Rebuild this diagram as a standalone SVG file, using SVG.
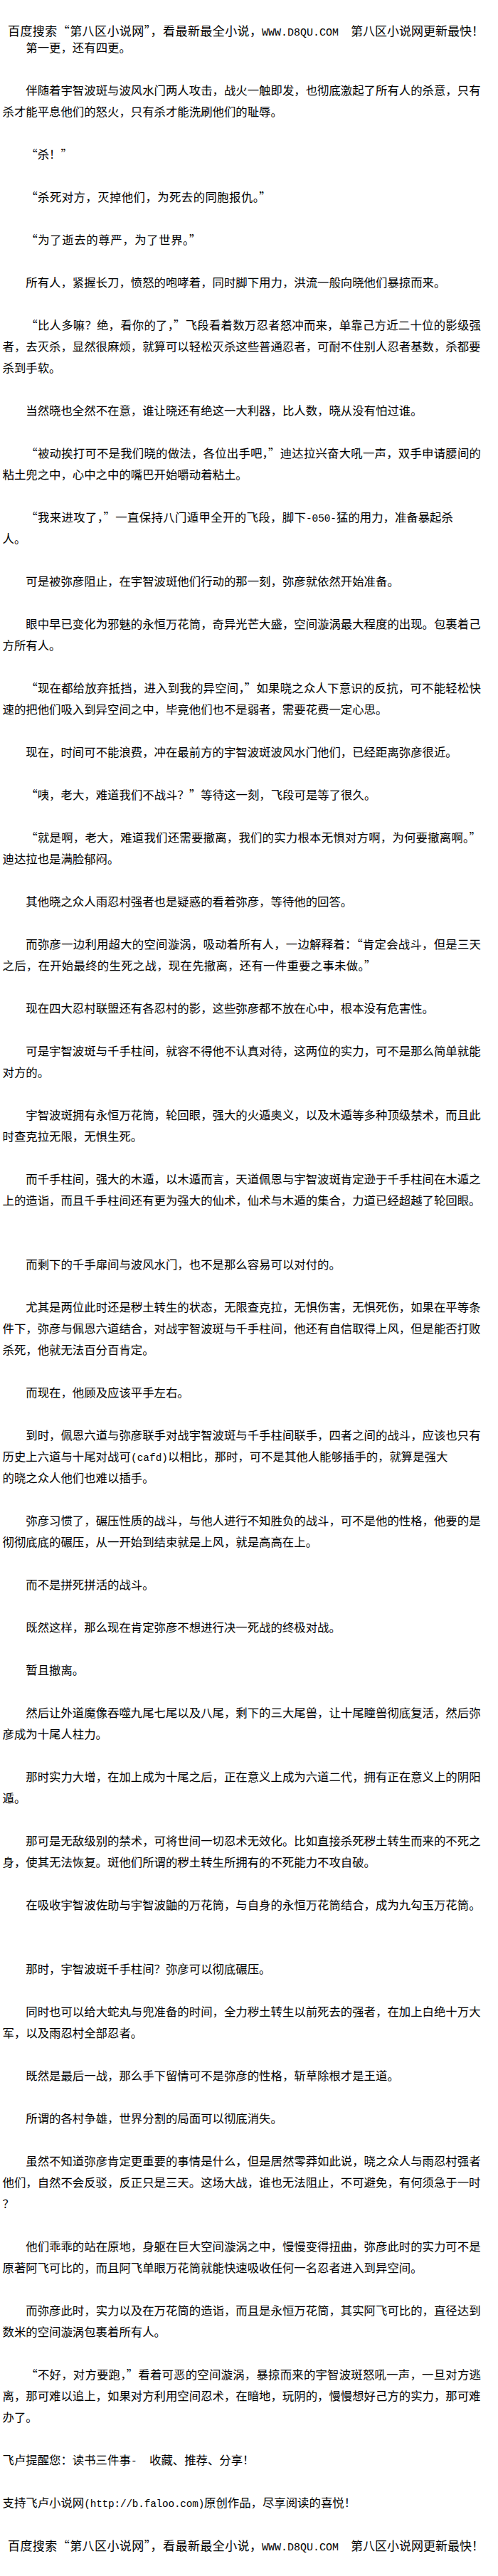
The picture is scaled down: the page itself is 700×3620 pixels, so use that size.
<svg xmlns="http://www.w3.org/2000/svg" width="700" height="3620" viewBox="0 0 700 3620">
<style>
text{font-family:'Noto Sans CJK SC','Noto Sans CJK JP',sans-serif;font-size:16.4px;fill:#000}
.h{font-size:17px}
.m{font-family:'Liberation Mono','DejaVu Sans Mono',monospace;font-size:14.4px}
.hm{font-family:'Liberation Mono','DejaVu Sans Mono',monospace;font-size:15px}
</style>
<rect width="700" height="3620" fill="#fff"/>
<g id="header">
<text class="h" x="11" y="49.5" textLength="357" lengthAdjust="spacing">百度搜索“第八区小说网”，看最新最全小说，</text>
<text class="hm" x="368" y="49.5" textLength="108" lengthAdjust="spacing">WWW.D8QU.COM</text>
<text class="h" x="493" y="49.5">第八区小说网更新最快！</text>
</g>
<g id="body">
<text x="36.3" y="73">第一更，还有四更。</text>
<text x="36.3" y="133">伴随着宇智波斑与波风水门两人攻击，战火一触即发，也彻底激起了所有人的杀意，只有</text>
<text x="3.5" y="163">杀才能平息他们的怒火，只有杀才能洗刷他们的耻辱。</text>
<text x="36.3" y="223" textLength="65.6" lengthAdjust="spacing">“杀！”</text>
<text x="36.3" y="283" textLength="344.4" lengthAdjust="spacing">“杀死对方，灭掉他们，为死去的同胞报仇。”</text>
<text x="36.3" y="343" textLength="246" lengthAdjust="spacing">“为了逝去的尊严，为了世界。”</text>
<text x="36.3" y="403">所有人，紧握长刀，愤怒的咆哮着，同时脚下用力，洪流一般向晓他们暴掠而来。</text>
<text x="36.3" y="463" textLength="639.6" lengthAdjust="spacing">“比人多嘛？绝，看你的了，”飞段看着数万忍者怒冲而来，单靠己方近二十位的影级强</text>
<text x="3.5" y="493">者，去灭杀，显然很麻烦，就算可以轻松灭杀这些普通忍者，可耐不住别人忍者基数，杀都要</text>
<text x="3.5" y="523">杀到手软。</text>
<text x="36.3" y="583">当然晓也全然不在意，谁让晓还有绝这一大利器，比人数，晓从没有怕过谁。</text>
<text x="36.3" y="643" textLength="639.6" lengthAdjust="spacing">“被动挨打可不是我们晓的做法，各位出手吧，”迪达拉兴奋大吼一声，双手申请腰间的</text>
<text x="3.5" y="673">粘土兜之中，心中之中的嘴巴开始嚼动着粘土。</text>
<text x="36.3" y="733" textLength="393.6" lengthAdjust="spacing">“我来进攻了，”一直保持八门遁甲全开的飞段，脚下</text>
<text class="m" x="430" y="733" textLength="43" lengthAdjust="spacing">-050-</text>
<text x="473" y="733">猛的用力，准备暴起杀</text>
<text x="3.5" y="763">人。</text>
<text x="36.3" y="823">可是被弥彦阻止，在宇智波斑他们行动的那一刻，弥彦就依然开始准备。</text>
<text x="36.3" y="883">眼中早已变化为邪魅的永恒万花筒，奇异光芒大盛，空间漩涡最大程度的出现。包裹着己</text>
<text x="3.5" y="913">方所有人。</text>
<text x="36.3" y="973" textLength="639.6" lengthAdjust="spacing">“现在都给放弃抵挡，进入到我的异空间，”如果晓之众人下意识的反抗，可不能轻松快</text>
<text x="3.5" y="1003">速的把他们吸入到异空间之中，毕竟他们也不是弱者，需要花费一定心思。</text>
<text x="36.3" y="1063">现在，时间可不能浪费，冲在最前方的宇智波斑波风水门他们，已经距离弥彦很近。</text>
<text x="36.3" y="1123" textLength="492" lengthAdjust="spacing">“咦，老大，难道我们不战斗？”等待这一刻，飞段可是等了很久。</text>
<text x="36.3" y="1183" textLength="639.6" lengthAdjust="spacing">“就是啊，老大，难道我们还需要撤离，我们的实力根本无惧对方啊，为何要撤离啊。”</text>
<text x="3.5" y="1213">迪达拉也是满脸郁闷。</text>
<text x="36.3" y="1273">其他晓之众人雨忍村强者也是疑惑的看着弥彦，等待他的回答。</text>
<text x="36.3" y="1333" textLength="639.6" lengthAdjust="spacing">而弥彦一边利用超大的空间漩涡，吸动着所有人，一边解释着：“肯定会战斗，但是三天</text>
<text x="3.5" y="1363" textLength="524.8" lengthAdjust="spacing">之后，在开始最终的生死之战，现在先撤离，还有一件重要之事未做。”</text>
<text x="36.3" y="1423">现在四大忍村联盟还有各忍村的影，这些弥彦都不放在心中，根本没有危害性。</text>
<text x="36.3" y="1483">可是宇智波斑与千手柱间，就容不得他不认真对待，这两位的实力，可不是那么简单就能</text>
<text x="3.5" y="1513">对方的。</text>
<text x="36.3" y="1573">宇智波斑拥有永恒万花筒，轮回眼，强大的火遁奥义，以及木遁等多种顶级禁术，而且此</text>
<text x="3.5" y="1603">时查克拉无限，无惧生死。</text>
<text x="36.3" y="1663">而千手柱间，强大的木遁，以木遁而言，天道佩恩与宇智波斑肯定逊于千手柱间在木遁之</text>
<text x="3.5" y="1693">上的造诣，而且千手柱间还有更为强大的仙术，仙术与木遁的集合，力道已经超越了轮回眼。</text>
<text x="36.3" y="1783">而剩下的千手扉间与波风水门，也不是那么容易可以对付的。</text>
<text x="36.3" y="1843">尤其是两位此时还是秽土转生的状态，无限查克拉，无惧伤害，无惧死伤，如果在平等条</text>
<text x="3.5" y="1873">件下，弥彦与佩恩六道结合，对战宇智波斑与千手柱间，他还有自信取得上风，但是能否打败</text>
<text x="3.5" y="1903">杀死，他就无法百分百肯定。</text>
<text x="36.3" y="1963">而现在，他顾及应该平手左右。</text>
<text x="36.3" y="2023">到时，佩恩六道与弥彦联手对战宇智波斑与千手柱间联手，四者之间的战斗，应该也只有</text>
<text x="3.5" y="2053">历史上六道与十尾对战可</text>
<text class="m" x="184" y="2053" textLength="52" lengthAdjust="spacing">(cafd)</text>
<text x="236" y="2053">以相比，那时，可不是其他人能够插手的，就算是强大</text>
<text x="3.5" y="2083">的晓之众人他们也难以插手。</text>
<text x="36.3" y="2143">弥彦习惯了，碾压性质的战斗，与他人进行不知胜负的战斗，可不是他的性格，他要的是</text>
<text x="3.5" y="2173">彻彻底底的碾压，从一开始到结束就是上风，就是高高在上。</text>
<text x="36.3" y="2233">而不是拼死拼活的战斗。</text>
<text x="36.3" y="2293">既然这样，那么现在肯定弥彦不想进行决一死战的终极对战。</text>
<text x="36.3" y="2353">暂且撤离。</text>
<text x="36.3" y="2413">然后让外道魔像吞噬九尾七尾以及八尾，剩下的三大尾兽，让十尾瞳兽彻底复活，然后弥</text>
<text x="3.5" y="2443">彦成为十尾人柱力。</text>
<text x="36.3" y="2503">那时实力大增，在加上成为十尾之后，正在意义上成为六道二代，拥有正在意义上的阴阳</text>
<text x="3.5" y="2533">遁。</text>
<text x="36.3" y="2593">那可是无敌级别的禁术，可将世间一切忍术无效化。比如直接杀死秽土转生而来的不死之</text>
<text x="3.5" y="2623">身，使其无法恢复。斑他们所谓的秽土转生所拥有的不死能力不攻自破。</text>
<text x="36.3" y="2683">在吸收宇智波佐助与宇智波鼬的万花筒，与自身的永恒万花筒结合，成为九勾玉万花筒。</text>
<text x="36.3" y="2773">那时，宇智波斑千手柱间？弥彦可以彻底碾压。</text>
<text x="36.3" y="2833">同时也可以给大蛇丸与兜准备的时间，全力秽土转生以前死去的强者，在加上白绝十万大</text>
<text x="3.5" y="2863">军，以及雨忍村全部忍者。</text>
<text x="36.3" y="2923">既然是最后一战，那么手下留情可不是弥彦的性格，斩草除根才是王道。</text>
<text x="36.3" y="2983">所谓的各村争雄，世界分割的局面可以彻底消失。</text>
<text x="36.3" y="3043">虽然不知道弥彦肯定更重要的事情是什么，但是居然零莽如此说，晓之众人与雨忍村强者</text>
<text x="3.5" y="3073">他们，自然不会反驳，反正只是三天。这场大战，谁也无法阻止，不可避免，有何须急于一时</text>
<text x="3.5" y="3103">？</text>
<text x="36.3" y="3163">他们乖乖的站在原地，身躯在巨大空间漩涡之中，慢慢变得扭曲，弥彦此时的实力可不是</text>
<text x="3.5" y="3193">原著阿飞可比的，而且阿飞单眼万花筒就能快速吸收任何一名忍者进入到异空间。</text>
<text x="36.3" y="3253">而弥彦此时，实力以及在万花筒的造诣，而且是永恒万花筒，其实阿飞可比的，直径达到</text>
<text x="3.5" y="3283">数米的空间漩涡包裹着所有人。</text>
<text x="36.3" y="3343" textLength="639.6" lengthAdjust="spacing">“不好，对方要跑，”看着可恶的空间漩涡，暴掠而来的宇智波斑怒吼一声，一旦对方逃</text>
<text x="3.5" y="3373">离，那可难以追上，如果对方利用空间忍术，在暗地，玩阴的，慢慢想好己方的实力，那可难</text>
<text x="3.5" y="3403">办了。</text>
</g>
<g id="footer">
<text x="3.5" y="3463">飞卢提醒您：读书三件事</text>
<text class="m" x="184" y="3463" textLength="26" lengthAdjust="spacing"> - </text>
<text x="210" y="3463">收藏、推荐、分享！</text>
<text x="3.5" y="3523">支持飞卢小说网</text>
<text class="m" x="118.3" y="3523" textLength="169" lengthAdjust="spacing">(http://b.faloo.com)</text>
<text x="287" y="3523">原创作品，尽享阅读的喜悦！</text>
<text class="h" x="11" y="3584" textLength="357" lengthAdjust="spacing">百度搜索“第八区小说网”，看最新最全小说，</text>
<text class="hm" x="368" y="3584" textLength="108" lengthAdjust="spacing">WWW.D8QU.COM</text>
<text class="h" x="493" y="3584">第八区小说网更新最快！</text>
</g>
</svg>
